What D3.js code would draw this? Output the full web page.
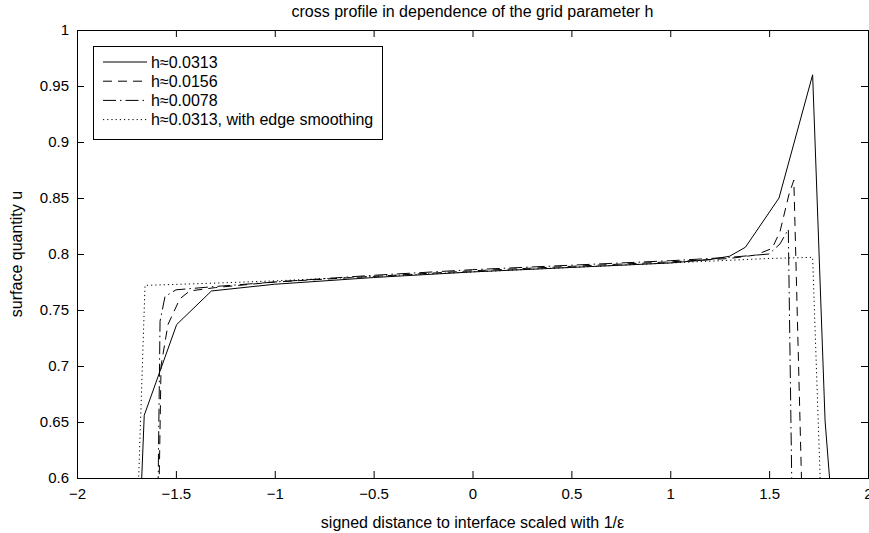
<!DOCTYPE html>
<html><head><meta charset="utf-8">
<script src="https://cdn.jsdelivr.net/npm/d3@7"></script>
<style>
body{margin:0;background:#fff;}
text{font-family:"Liberation Sans",Arial,Helvetica,sans-serif;fill:#000;}
</style></head>
<body><svg id="c" width="869" height="533"></svg>
<script>
// ---- data ----
const title = "cross profile in dependence of the grid parameter h";
const xLabel = "signed distance to interface scaled with 1/\u03b5";
const yLabel = "surface quantity u";
const xTicks = [-2, -1.5, -1, -0.5, 0, 0.5, 1, 1.5, 2];
const yTicks = [0.6, 0.65, 0.7, 0.75, 0.8, 0.85, 0.9, 0.95, 1];
const seriesNames = ["h\u22480.0313", "h\u22480.0156", "h\u22480.0078", "h\u22480.0313, with edge smoothing"];

const h0313_x = [-1.675, -1.66, -1.496, -1.32, -1.0, -0.5, 0.0, 0.5, 1.0, 1.2, 1.3, 1.38, 1.55, 1.72, 1.783, 1.81];
const h0313_y = [0.59, 0.656, 0.737, 0.767, 0.773, 0.779, 0.784, 0.788, 0.792, 0.795, 0.798, 0.806, 0.850, 0.960, 0.651, 0.59];

const h0156_x = [-1.585, -1.575, -1.54, -1.48, -1.43, -1.3, -1.0, -0.5, 0.0, 0.5, 1.0, 1.3, 1.43, 1.515, 1.555, 1.6, 1.625, 1.665];
const h0156_y = [0.59, 0.700, 0.737, 0.760, 0.767, 0.770, 0.775, 0.780, 0.785, 0.789, 0.793, 0.796, 0.799, 0.805, 0.820, 0.853, 0.866, 0.59];

const h0078_x = [-1.59, -1.58, -1.555, -1.5, -1.3, -1.0, -0.5, 0.0, 0.5, 1.0, 1.3, 1.5, 1.555, 1.597, 1.615];
const h0078_y = [0.59, 0.740, 0.762, 0.768, 0.771, 0.775, 0.781, 0.786, 0.790, 0.794, 0.797, 0.800, 0.809, 0.822, 0.59];

const smooth_x = [-1.69, -1.656, -1.3, -1.0, -0.5, 0.0, 0.5, 1.0, 1.5, 1.72, 1.76];
const smooth_y = [0.59, 0.772, 0.774, 0.776, 0.780, 0.784, 0.788, 0.792, 0.796, 0.797, 0.59];

const dashes = [null, "9,6", "13,4,1.5,4", "1.2,3"];

// ---- layout ----
const W = 869, H = 533;
const m = {left: 77, top: 30, right: 1, bottom: 55};
const pw = W - m.left - m.right, ph = H - m.top - m.bottom;
const svg = d3.select("#c");
const x = d3.scaleLinear().domain([-2, 2]).range([m.left, m.left + pw]);
const y = d3.scaleLinear().domain([0.6, 1]).range([m.top + ph, m.top]);

svg.append("defs").append("clipPath").attr("id", "clip")
  .append("rect").attr("x", m.left).attr("y", m.top).attr("width", pw).attr("height", ph);

const series = [
  {xs: h0313_x, ys: h0313_y},
  {xs: h0156_x, ys: h0156_y},
  {xs: h0078_x, ys: h0078_y},
  {xs: smooth_x, ys: smooth_y}
];
const line = d3.line().x(d => x(d[0])).y(d => y(d[1]));
const g = svg.append("g").attr("clip-path", "url(#clip)");
series.forEach((s, i) => {
  const pts = s.xs.map((v, k) => [v, s.ys[k]]);
  g.append("path").attr("d", line(pts)).attr("fill", "none")
    .attr("stroke", "#000").attr("stroke-width", 1)
    .attr("stroke-dasharray", dashes[i]);
});

// axes (MATLAB box with inward ticks)
const fmt = d => d3.format("")(d).replace("-", "\u2212");
const tl = 7;
const axB = d3.axisBottom(x).tickValues(xTicks).tickSize(-tl).tickPadding(10).tickFormat(fmt);
const axT = d3.axisTop(x).tickValues(xTicks).tickSize(-tl).tickFormat("");
const axL = d3.axisLeft(y).tickValues(yTicks).tickSize(-tl).tickPadding(8).tickFormat(d => d3.format("")(d));
const axR = d3.axisRight(y).tickValues(yTicks).tickSize(-tl).tickFormat("");
function style(sel){
  sel.selectAll(".domain").attr("stroke", "#000");
  sel.selectAll(".tick line").attr("stroke", "#000");
  sel.selectAll("text").attr("font-size", 15).attr("font-family", "Liberation Sans, Arial, sans-serif").attr("fill", "#000");
}
svg.append("g").attr("transform", `translate(0,${m.top + ph})`).call(axB).call(style);
svg.append("g").attr("transform", `translate(0,${m.top})`).call(axT).call(style);
svg.append("g").attr("transform", `translate(${m.left},0)`).call(axL).call(style);
svg.append("g").attr("transform", `translate(${m.left + pw},0)`).call(axR).call(style);

// titles
svg.append("text").attr("x", x(0)).attr("y", 16.5).attr("text-anchor", "middle")
  .attr("font-size", 16).text(title);
svg.append("text").attr("x", x(0)).attr("y", 528).attr("text-anchor", "middle")
  .attr("font-size", 16).text(xLabel);
svg.append("text").attr("transform", `translate(22,${y(0.8)}) rotate(-90)`).attr("text-anchor", "middle")
  .attr("font-size", 16).text(yLabel);

// legend
const lg = svg.append("g");
lg.append("rect").attr("x", 93.5).attr("y", 46.5).attr("width", 289).attr("height", 93)
  .attr("fill", "#fff").attr("stroke", "#000").attr("stroke-width", 1);
seriesNames.forEach((n, i) => {
  const yy = 62 + i * 19.2;
  lg.append("line").attr("x1", 103).attr("x2", 147).attr("y1", yy).attr("y2", yy)
    .attr("stroke", "#000").attr("stroke-width", 1).attr("stroke-dasharray", dashes[i]);
  lg.append("text").attr("x", 151).attr("y", yy).attr("dy", "0.35em").attr("font-size", 16).text(n);
});
</script></body></html>
